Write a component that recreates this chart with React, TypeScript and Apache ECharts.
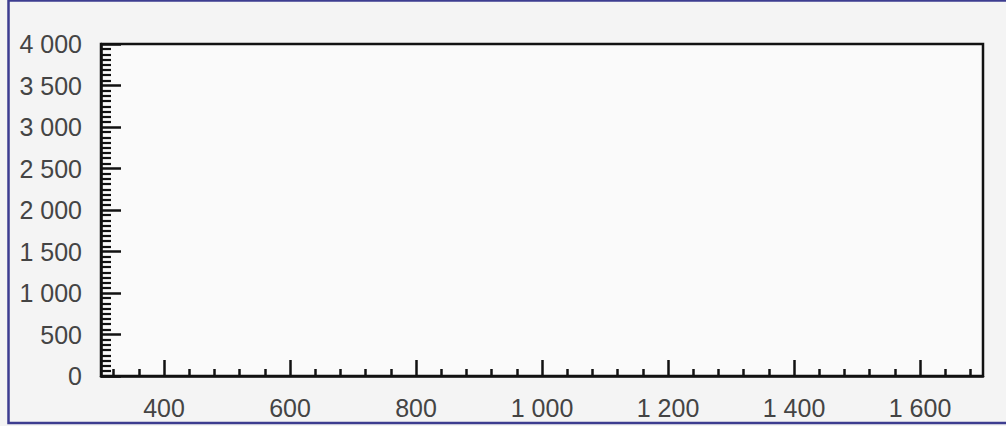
import React, { useEffect, useRef } from "react";
import * as echarts from "echarts";

// Axis extents and tick positions
const xRange = [300, 1700];
const yRange = [0, 4000];
const yStep = 500;
const xMajorTicks = [400, 600, 800, 1000, 1200, 1400, 1600];
const xMinorTicks = [
  320, 360, 440, 480, 520, 560, 640, 680, 720, 760, 840, 880, 920, 960,
  1040, 1080, 1120, 1160, 1240, 1280, 1320, 1360, 1440, 1480, 1520, 1560,
  1640, 1680,
];
const seriesData: number[][] = [];

const fmt = (v: number) =>
  String(v).replace(/\B(?=(\d{3})+(?!\d))/g, " ");

export default function App() {
  const ref = useRef<HTMLDivElement>(null);

  useEffect(() => {
    if (!ref.current) return;
    const chart = echarts.init(ref.current, undefined, { renderer: "svg" });
    const labelStyle = {
      color: "#444",
      fontSize: 25,
      fontFamily: "Liberation Sans, Arial, sans-serif",
    };
    chart.setOption({
      animation: false,
      backgroundColor: "#f4f4f4",
      grid: {
        left: 101,
        right: 23,
        top: 44,
        bottom: 50,
        show: true,
        backgroundColor: "#fafafa",
        borderColor: "#111",
        borderWidth: 2.5,
      },
      xAxis: [
        {
          type: "value",
          position: "bottom",
          min: xRange[0],
          max: xRange[1],
          splitLine: { show: false },
          axisLine: { show: true, lineStyle: { color: "#111", width: 2.5 } },
          axisTick: {
            show: true,
            inside: true,
            length: 16,
            customValues: xMajorTicks,
            lineStyle: { color: "#111", width: 2.5 },
          },
          axisLabel: {
            ...labelStyle,
            margin: 19,
            customValues: xMajorTicks,
            formatter: (v: number) => fmt(v),
          },
        },
        {
          type: "value",
          position: "bottom",
          min: xRange[0],
          max: xRange[1],
          splitLine: { show: false },
          axisLine: { show: false },
          axisTick: {
            show: true,
            inside: true,
            length: 7,
            customValues: xMinorTicks,
            lineStyle: { color: "#111", width: 2.5 },
          },
          axisLabel: { show: false },
        },
      ],
      yAxis: {
        type: "value",
        min: yRange[0],
        max: yRange[1],
        interval: yStep,
        splitLine: { show: false },
        axisLine: { show: true, lineStyle: { color: "#111", width: 2.5 } },
        axisTick: {
          show: true,
          inside: true,
          length: 20,
          lineStyle: { color: "#111", width: 2.5 },
        },
        minorTick: {
          show: true,
          splitNumber: 8,
          length: 10,
          lineStyle: { color: "#111", width: 2.2 },
        },
        axisLabel: {
          ...labelStyle,
          margin: 19,
          formatter: (v: number) => fmt(v),
        },
      },
      graphic: [
        {
          type: "rect",
          silent: true,
          z: 100,
          shape: { x: 8.5, y: 0.5, width: 1100, height: 422.5 },
          style: { fill: "none", stroke: "#3d3d90", lineWidth: 2.5 },
        },
      ],
      series: [
        {
          type: "line",
          data: seriesData,
          showSymbol: false,
        },
      ],
    });
    return () => chart.dispose();
  }, []);

  return (
    <div
      ref={ref}
      style={{ position: "fixed", left: 0, top: 0, width: 1006, height: 426 }}
    />
  );
}
